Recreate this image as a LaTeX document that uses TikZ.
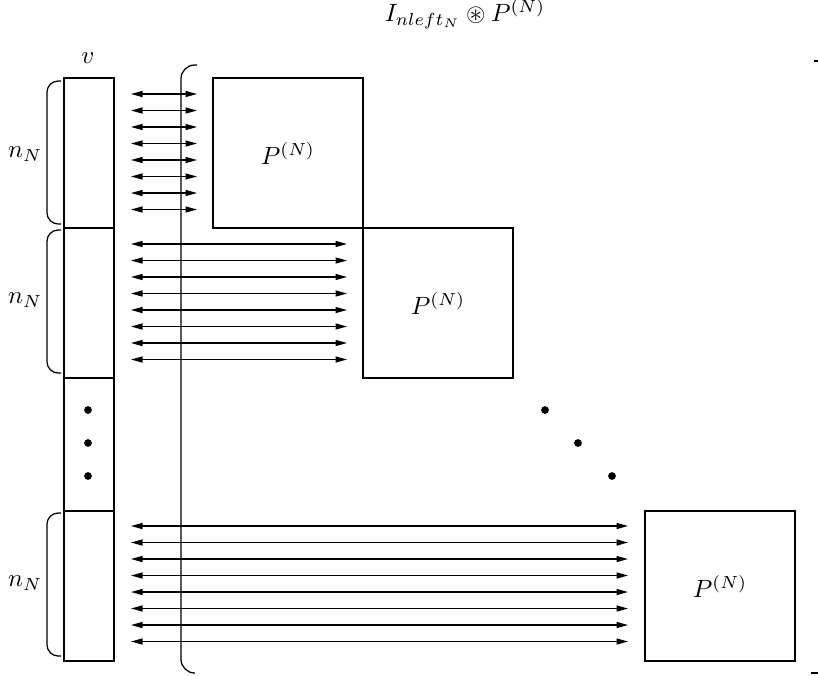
\documentclass[tikz,border=0pt]{standalone}
\usepackage{amsmath,amssymb}
\usetikzlibrary{positioning,arrows.meta}

\begin{document}
\begin{tikzpicture}[
    x=0.4pt,y=-0.4pt,line width=0.5pt,
    seg/.style={draw,minimum width=20pt,minimum height=60pt,inner sep=0pt,outer sep=0pt},
    blk/.style={draw,minimum width=60pt,minimum height=60pt,inner sep=0pt,outer sep=0pt},
    arr/.style={{Triangle[length=4.6pt,width=2.4pt]}-{Triangle[length=4.6pt,width=2.4pt]}},
    brk/.style={rounded corners=4.5pt},
    dot/.style={circle,fill,inner sep=0pt,minimum size=3.1pt}
]
\useasboundingbox (0,0) rectangle (818,675);
\node[seg] (v1) at (89,153) {};
\node[seg, below=0pt of v1] (v2) {};
\node[seg, below=0pt of v2, minimum height=53.2pt] (v3) {};
\node[seg, below=0pt of v3] (v4) {};
\node (vlab) at (88,58) {$v$};
\node[blk, anchor=north west] (p1) at (213,78) {$P^{(N)}$};
\node[blk, anchor=north west] (p2) at (p1.south east) {$P^{(N)}$};
\node[blk, anchor=north west] (p3) at (645,511) {$P^{(N)}$};
\node (ttl) at (465,14) {$I_{nleft_N} \circledast P^{(N)}$};
\node (n1) at (25,154) {$n_N$};
\node (n2) at (25,300) {$n_N$};
\node (n3) at (25,583) {$n_N$};
\draw[brk] (61,81) -- (47,81) -- (47,224) -- (61,224);
\draw[brk] (61,230) -- (47,230) -- (47,373) -- (61,373);
\draw[brk] (61,513) -- (47,513) -- (47,656) -- (61,656);
\draw[rounded corners=5.5pt] (197,65) -- (181,65) -- (181,673) -- (193,673);
\draw (814,61) -- (818,61);
\draw (811,673) -- (818,673);
\foreach \g/\ytop/\xend in {1/94/197, 2/244/347, 3/526/628}{
  \foreach \k in {0,...,7}{
    \coordinate (s\g\k) at (131,{\ytop+16.5*\k});
    \coordinate (e\g\k) at (\xend,{\ytop+16.5*\k});
    \draw[arr] (s\g\k) -- (e\g\k);
  }
}
\foreach \i/\y in {1/410, 2/443, 3/476}
  \node[dot] (vd\i) at (88,\y) {};
\foreach \i/\x/\y in {1/545/410, 2/578/443, 3/612/476}
  \node[dot] (dd\i) at (\x,\y) {};
\end{tikzpicture}
\end{document}
